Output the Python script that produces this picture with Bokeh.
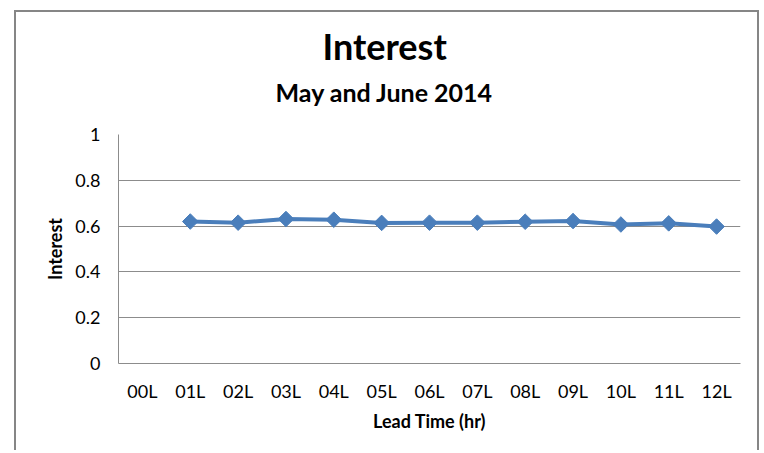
from bokeh.plotting import figure
from bokeh.models import Range1d, FixedTicker, Title
from bokeh.embed import file_html
from bokeh.resources import INLINE
import math

# Data
categories = ["00L", "01L", "02L", "03L", "04L", "05L", "06L", "07L", "08L", "09L", "10L", "11L", "12L"]
lead_idx = [1, 2, 3, 4, 5, 6, 7, 8, 9, 10, 11, 12]
interest = [0.620, 0.615, 0.631, 0.628, 0.614, 0.615, 0.615, 0.619, 0.622, 0.607, 0.612, 0.598]
y_ticks = [0, 0.2, 0.4, 0.6, 0.8, 1.0]

FONT = "Lato"
GRAY = "#8c8c8c"
BLUE = "#4a7ebb"

p = figure(width=745, height=440, output_backend="svg", toolbar_location=None,
           x_range=Range1d(-0.5, len(categories) - 0.5), y_range=Range1d(0, 1),
           min_border_left=102, min_border_right=21, min_border_top=122, min_border_bottom=89)
p.title = None
p.outline_line_color = None
p.background_fill_color = "white"
p.border_fill_color = "white"
p.styles = {"margin-left": "14px", "margin-top": "10px",
            "border-left": "2px solid #868686", "border-top": "2px solid #868686",
            "border-right": "2px solid #868686"}

# x axis
p.xaxis.ticker = FixedTicker(ticks=list(range(len(categories))))
p.xaxis.major_label_overrides = {i: c for i, c in enumerate(categories)}
p.xaxis.axis_label = "Lead Time (hr)"
p.xaxis.axis_line_color = GRAY
p.xaxis.major_tick_line_color = None
p.xaxis.minor_tick_line_color = None
p.xaxis.major_tick_out = 0
p.xaxis.major_tick_in = 0
p.xaxis.major_label_standoff = 16
p.xaxis.axis_label_standoff = 5
p.xgrid.grid_line_color = None

# y axis
p.yaxis.ticker = FixedTicker(ticks=y_ticks)
p.yaxis.major_label_overrides = {0: "0", 1: "1"}
p.yaxis.axis_label = "Interest"
p.yaxis.axis_line_color = GRAY
p.yaxis.major_tick_line_color = None
p.yaxis.minor_tick_line_color = None
p.yaxis.major_tick_out = 0
p.yaxis.major_tick_in = 0
p.yaxis.major_label_standoff = 18
p.yaxis.axis_label_standoff = 6
p.ygrid.grid_line_color = GRAY
p.ygrid.grid_line_width = 1

for ax in (p.xaxis, p.yaxis):
    ax.major_label_text_font = FONT
    ax.major_label_text_font_size = "18px"
    ax.major_label_text_color = "black"
    ax.axis_label_text_font = FONT
    ax.axis_label_text_font_size = "18px"
    ax.axis_label_text_font_style = "bold"
    ax.axis_label_text_color = "black"

p.line(lead_idx, interest, line_color=BLUE, line_width=4)
p.scatter(lead_idx, interest, marker="square", size=11, angle=math.pi / 4,
          fill_color=BLUE, line_color=BLUE)

# spacer between plot area and subtitle
p.add_layout(Title(text=" ", standoff=25, text_font=FONT, text_font_size="1px"), "above")
p.add_layout(Title(text="May and June 2014", align="left", offset=157, standoff=0,
                   text_font=FONT, text_font_size="25px", text_font_style="bold",
                   text_color="black"), "above")
p.add_layout(Title(text="Interest", align="left", offset=204, standoff=13,
                   text_font=FONT, text_font_size="36px", text_font_style="bold",
                   text_color="black"), "above")

open("out.html", "w").write(file_html(p, INLINE))
